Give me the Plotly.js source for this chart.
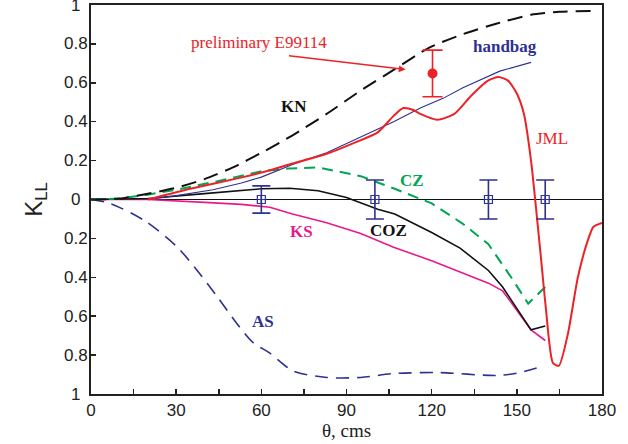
<!DOCTYPE html>
<html>
<head>
<meta charset="utf-8">
<script src="https://cdn.plot.ly/plotly-3.0.1.min.js"></script>
<style>html,body{margin:0;padding:0;background:#fff;}#chart{width:628px;height:444px;}</style>
</head>
<body>
<div id="chart"></div>
<script>
// ---- data (theta in degrees cms, K_LL) ----
const knX = [0, 10, 20, 30, 40, 50, 60, 71, 83, 95, 107, 119, 131, 143, 155, 165, 178];
const knY = [0, 0.005, 0.03, 0.06, 0.105, 0.165, 0.24, 0.33, 0.44, 0.56, 0.67, 0.78, 0.85, 0.905, 0.95, 0.965, 0.97];

const hbX = [20, 30, 43, 53, 60, 71, 83, 95, 106.6, 116, 124, 131, 144, 155];
const hbY = [0, 0.02, 0.05, 0.085, 0.115, 0.18, 0.24, 0.32, 0.40, 0.47, 0.52, 0.575, 0.66, 0.705];

const jmlX = [20, 35, 52, 63, 71, 83, 92.5, 101, 106.6, 110, 113.6, 116, 122, 128, 134, 139.7, 143.6, 147, 150, 152.5, 155, 158.5, 160.2, 162.7, 164.8, 168, 171.5, 175, 177, 180];
const jmlY = [0, 0.055, 0.11, 0.15, 0.185, 0.235, 0.29, 0.345, 0.43, 0.47, 0.46, 0.44, 0.41, 0.44, 0.535, 0.61, 0.63, 0.61, 0.545, 0.44, 0.20, -0.30, -0.555, -0.84, -0.855, -0.69, -0.40, -0.21, -0.14, -0.12];

const czX = [0, 10, 20, 30, 45, 60, 70, 80, 95, 107, 120, 131, 140, 148, 154, 160];
const czY = [0, 0.005, 0.025, 0.05, 0.095, 0.145, 0.16, 0.165, 0.12, 0.055, -0.02, -0.125, -0.23, -0.40, -0.535, -0.45];

const cozX = [0, 20, 40, 60, 70, 80, 90, 101, 107, 120, 130, 140, 145, 155, 160];
const cozY = [0, 0.005, 0.03, 0.055, 0.058, 0.045, 0.01, -0.05, -0.075, -0.17, -0.25, -0.365, -0.45, -0.67, -0.65];

const ksX = [0, 20, 40, 53, 63, 71, 83, 95, 106.6, 120, 140, 145, 155, 160];
const ksY = [0, 0, -0.015, -0.025, -0.04, -0.075, -0.12, -0.175, -0.245, -0.315, -0.43, -0.47, -0.67, -0.725];

const asX = [0, 6.7, 19, 30.4, 37.4, 44.5, 51.5, 57, 63, 71, 83, 95, 106.6, 123, 143, 151, 158.5];
const asY = [0, -0.02, -0.11, -0.245, -0.365, -0.50, -0.64, -0.735, -0.79, -0.88, -0.915, -0.915, -0.895, -0.89, -0.905, -0.89, -0.86];

const ptX = [60, 100, 140, 160];
const ptY = [0, 0, 0, 0];
const ptErr = [0.07, 0.1, 0.1, 0.1];

const e99X = [120.3];
const e99Y = [0.648];
const e99ErrPlus = [0.12];
const e99ErrMinus = [0.12];

const xTickVals = [0, 30, 60, 90, 120, 150, 180];
const xTickText = ['0', '30', '60', '90', '120', '150', '180'];
const yTickVals = [1, 0.8, 0.6, 0.4, 0.2, 0, -0.2, -0.4, -0.6, -0.8, -1];
const yTickText = ['1', '0.8', '0.6', '0.4', '0.2', '0', '0.2', '0.4', '0.6', '0.8', '1'];

// ---- colours ----
const RED = '#ec2227', BLUE = '#2e3192', GREEN = '#00a651', MAG = '#e8198b', BLACK = '#111111';
const SERIF = 'Liberation Serif, Times New Roman, serif';
const SANS = 'Liberation Sans, Arial, sans-serif';

const traces = [
  {x: asX, y: asY, mode: 'lines', line: {color: BLUE, width: 1.6, dash: '13px,8px', shape: 'spline', smoothing: 0.8}, name: 'AS'},
  {x: ksX, y: ksY, mode: 'lines', line: {color: MAG, width: 1.6}, name: 'KS'},
  {x: cozX, y: cozY, mode: 'lines', line: {color: BLACK, width: 1.6}, name: 'COZ'},
  {x: czX, y: czY, mode: 'lines', line: {color: GREEN, width: 2, dash: '11px,7px'}, name: 'CZ'},
  {x: knX, y: knY, mode: 'lines', line: {color: BLACK, width: 2, dash: '15px,8px', shape: 'spline', smoothing: 0.6}, name: 'KN'},
  {x: hbX, y: hbY, mode: 'lines', line: {color: BLUE, width: 1.1}, name: 'handbag'},
  {x: jmlX, y: jmlY, mode: 'lines', line: {color: RED, width: 2, shape: 'spline', smoothing: 0.6}, name: 'JML'},
  {x: ptX, y: ptY, mode: 'markers', marker: {symbol: 'square-cross-open', size: 8, color: BLUE, line: {width: 1.2, color: BLUE}},
   error_y: {type: 'data', array: ptErr, visible: true, color: BLUE, thickness: 1.6, width: 9}, name: 'data'},
  {x: e99X, y: e99Y, mode: 'markers', marker: {symbol: 'circle', size: 10, color: RED},
   error_y: {type: 'data', symmetric: false, array: e99ErrPlus, arrayminus: e99ErrMinus, visible: true, color: RED, thickness: 1.6, width: 10}, name: 'E99114'}
];

const yAnn = yTickVals.map((v, i) => ({
  xref: 'paper', yref: 'y', x: -0.03, y: v, text: yTickText[i], showarrow: false,
  xanchor: 'center', yanchor: 'middle', font: {family: SANS, size: 17, color: '#222'}
}));

const labels = [
  {x: 59.3, y: 0.807, text: 'preliminary E99114', color: RED, bold: false},
  {x: 145.9, y: 0.787, text: 'handbag', color: BLUE, bold: true},
  {x: 71.6, y: 0.478, text: 'KN', color: BLACK, bold: true},
  {x: 162.4, y: 0.314, text: 'JML', color: RED, bold: false},
  {x: 112.9, y: 0.098, text: 'CZ', color: GREEN, bold: true},
  {x: 74.1, y: -0.165, text: 'KS', color: MAG, bold: true},
  {x: 104.8, y: -0.159, text: 'COZ', color: BLACK, bold: true},
  {x: 60.7, y: -0.627, text: 'AS', color: BLUE, bold: true}
].map(l => ({
  x: l.x, y: l.y, xref: 'x', yref: 'y', showarrow: false, xanchor: 'center', yanchor: 'middle',
  text: l.bold ? '<b>' + l.text + '</b>' : l.text,
  font: {family: SERIF, size: 17, color: l.color}
}));

const arrow = {
  x: 110.8, y: 0.668, ax: 69.2, ay: 0.74, xref: 'x', yref: 'y', axref: 'x', ayref: 'y',
  text: '', showarrow: true, arrowhead: 2, arrowsize: 0.9, arrowwidth: 1.5, arrowcolor: RED, standoff: 0, startstandoff: 0
};

const layout = {
  width: 628, height: 444,
  margin: {l: 91, r: 26, t: 5, b: 50},
  paper_bgcolor: '#fff', plot_bgcolor: '#fff',
  showlegend: false,
  xaxis: {
    range: [0, 180], tickvals: xTickVals, ticktext: xTickText,
    ticks: 'inside', ticklen: 5, tickwidth: 1.5, tickcolor: '#222',
    minor: {dtick: 15, tick0: 0, ticks: 'inside', ticklen: 5, tickwidth: 1.5, tickcolor: '#222', showgrid: false},
    showline: true, linecolor: '#222', linewidth: 2, mirror: true,
    showgrid: false, zeroline: false,
    tickfont: {family: SANS, size: 17, color: '#222'},
    title: {text: 'θ, cms', font: {family: SERIF, size: 19, color: '#222'}, standoff: 3}
  },
  yaxis: {
    range: [-1, 1], tickvals: yTickVals, showticklabels: false,
    ticks: 'inside', ticklen: 5, tickwidth: 1.5, tickcolor: '#222',
    showline: true, linecolor: '#222', linewidth: 2, mirror: true,
    showgrid: false, zeroline: true, zerolinecolor: '#111', zerolinewidth: 1.6,
    title: {text: 'K<sub>LL</sub>', font: {family: SANS, size: 24, color: '#222'}, standoff: 40}
  },
  annotations: yAnn.concat(labels, [arrow])
};

Plotly.newPlot('chart', traces, layout, {displayModeBar: false, staticPlot: true});
</script>
</body>
</html>
